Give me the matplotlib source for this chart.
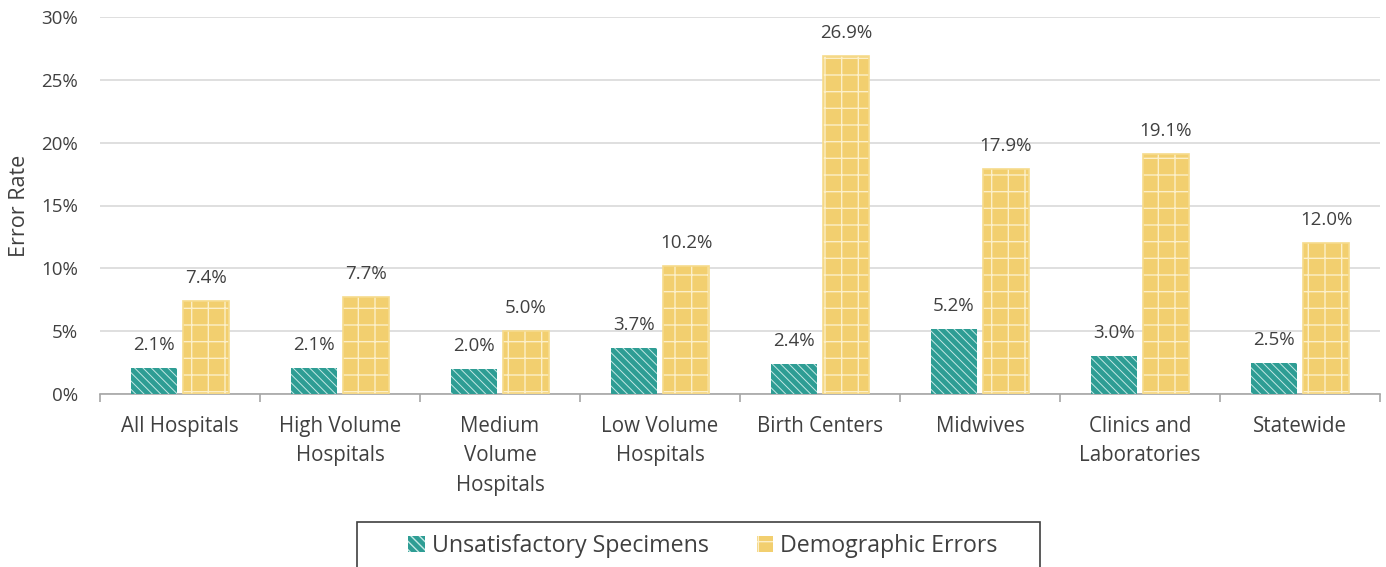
import matplotlib
matplotlib.use("Agg")
import matplotlib.pyplot as plt
import numpy as np
from matplotlib.patches import Rectangle, Patch

categories = ["All Hospitals", "High Volume\nHospitals", "Medium\nVolume\nHospitals",
              "Low Volume\nHospitals", "Birth Centers", "Midwives",
              "Clinics and\nLaboratories", "Statewide"]
unsatisfactory = [2.1, 2.1, 2.0, 3.7, 2.4, 5.2, 3.0, 2.5]
demographic = [7.4, 7.7, 5.0, 10.2, 26.9, 17.9, 19.1, 12.0]
series_names = ["Unsatisfactory Specimens", "Demographic Errors"]
yticks = [0, 5, 10, 15, 20, 25, 30]

plt.rcParams['font.family'] = ['Open Sans', 'DejaVu Sans']
txt = '#404040'
teal = '#2E9D94'
teal_h = '#C4E8E4'
yellow = '#F2CF6F'
yellow_h = '#FCEFC8'
fs = 13.5

fig = plt.figure(figsize=(13.86, 5.67), dpi=100)
ax = fig.add_axes([100/1386, 1-394/567, 1280/1386, 377/567])

x = np.arange(len(categories))
w = 0.285
gap = 0.04
with plt.rc_context({'hatch.linewidth': 0.7}):
    b1 = ax.bar(x - w/2 - gap/2, unsatisfactory, w, color=teal, edgecolor=teal_h,
                hatch='\\\\\\\\', linewidth=0, zorder=3)
    h1 = Patch(facecolor=teal, edgecolor=teal_h, hatch='\\\\\\\\', linewidth=0)
with plt.rc_context({'hatch.linewidth': 1.0}):
    b2 = ax.bar(x + w/2 + gap/2, demographic, w, color=yellow, edgecolor=yellow_h,
                hatch='+', linewidth=0, zorder=3)
    h2 = Patch(facecolor=yellow, edgecolor=yellow_h, hatch='+', linewidth=0)
ax.bar(x + w/2 + gap/2, demographic, w, color='none', edgecolor='#F6DB8C', linewidth=1.2, zorder=4)

for bars, vals in ((b1, unsatisfactory), (b2, demographic)):
    for r, v in zip(bars, vals):
        ax.annotate(f"{v:.1f}%", (r.get_x() + r.get_width()/2, v), xytext=(0, 10),
                    textcoords='offset points', ha='center', va='bottom',
                    fontsize=fs, color=txt)

ax.set_xlim(-0.5, len(categories) - 0.5)
ax.set_ylim(0, 30)
ax.set_yticks(yticks)
ax.set_yticklabels([f"{t}%" for t in yticks], fontsize=fs, color=txt)
ax.tick_params(axis='y', length=0, pad=16)
ax.yaxis.grid(True, color='#D9D9D9', linewidth=1.2, zorder=0)
ax.set_axisbelow(True)

ax.set_xticks(x)
ax.set_xticklabels(categories, fontsize=14.8, color=txt, linespacing=1.55)
ax.tick_params(axis='x', length=0, pad=15.5)
ax.set_xticks(np.arange(len(categories) + 1) - 0.5, minor=True)
ax.tick_params(axis='x', which='minor', length=6, color='#A6A6A6', width=1.2)

for s in ['top', 'right', 'left']:
    ax.spines[s].set_visible(False)
ax.spines['bottom'].set_color('#A6A6A6')
ax.spines['bottom'].set_linewidth(1.2)

ax.set_ylabel("Error Rate", fontsize=15.5, color=txt)
ax.yaxis.set_label_coords(-70/1280, 0.5)

# legend box
fig.patches.append(Rectangle((357/1386, -0.05), (1040-357)/1386, 0.05 + (567-522)/567,
                             transform=fig.transFigure, facecolor='white',
                             edgecolor='#404040', linewidth=1.2))
fig.legend([h1, h2], series_names, loc='center', bbox_to_anchor=(703/1386, 1-546/567),
           ncol=2, frameon=False, fontsize=16.7, labelcolor=txt, handlelength=0.7,
           handleheight=0.7, handletextpad=0.3, columnspacing=2.1)

fig.savefig("out.png", dpi=100)
